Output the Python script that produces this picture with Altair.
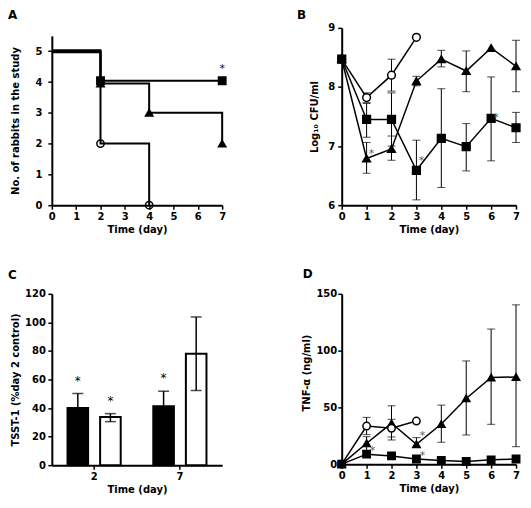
import altair as alt
import pandas as pd

FONT = "DejaVu Sans"

# ---------------- Panel A: number of rabbits in the study ----------------
a_sq_day = [0, 2, 7]
a_sq_n = [5.03, 4.04, 4.04]
a_tri_day = [0, 2, 4, 7]
a_tri_n = [4.97, 3.95, 3, 2]
a_ci_day = [0, 2, 4]
a_ci_n = [5, 2, 0]
a_star_day = [7]
a_star_n = [4.04]

# ---------------- Panel B: Log10 CFU/ml ----------------
days = [0, 1, 2, 3, 4, 5, 6, 7]
b_sq = [8.47, 7.45, 7.45, 6.59, 7.13, 6.99, 7.47, 7.31]
b_sq_lo = [None, 7.15, 7.00, 6.09, 6.30, 6.58, 6.75, 7.06]
b_sq_hi = [None, 7.72, 7.90, 7.10, 7.97, 7.38, 8.17, 7.57]
b_tri = [8.47, 6.79, 6.95, 8.10, 8.47, 8.27, 8.66, 8.35]
b_tri_lo = [None, 6.54, 6.76, 8.02, 8.34, 7.92, None, 7.92]
b_tri_hi = [None, 7.06, 7.17, 8.18, 8.62, 8.61, None, 8.79]
b_ci_day = [0, 1, 2, 3]
b_ci = [8.47, 7.82, 8.20, 8.84]
b_ci_lo = [None, 7.74, 7.93, None]
b_ci_hi = [None, 7.90, 8.47, None]
b_star_day = [1, 3, 6]
b_star_v = [6.87, 6.75, 7.48]

# ---------------- Panel C: TSST-1 ----------------
c_day = ["2", "7"]
c_black = [40.1, 41.3]
c_black_lo = [30.0, 30.8]
c_black_hi = [50.2, 51.8]
c_white = [33.8, 78.0]
c_white_lo = [30.5, 52.3]
c_white_hi = [36.1, 103.8]
c_black_sig = [True, True]
c_white_sig = [True, False]

# ---------------- Panel D: TNF-alpha ----------------
d_sq = [0, 8.8, 7.3, 4.6, 3.2, 2.3, 3.8, 4.6]
d_tri = [0, 18.4, 36.0, 17.5, 35.4, 57.9, 76.3, 76.8]
d_tri_lo = [None, 12.0, 21.3, 14.9, 19.3, 25.7, 35.1, 15.4]
d_tri_hi = [None, 24.2, 51.4, 23.4, 52.0, 90.9, 119.0, 140.3]
d_ci_day = [0, 1, 2, 3]
d_ci = [0, 33.6, 31.6, 38.0]
d_ci_lo = [None, 26.0, 24.0, None]
d_ci_hi = [None, 41.2, 39.5, None]
d_star_day = [1, 3, 3]
d_star_v = [11.0, 24.2, 6.7]

GROUPS = ["sq", "tri", "ci"]
SHAPE = alt.Scale(domain=GROUPS, range=["square", "triangle-up", "circle"])


def series(g, xs, vs, lo=None, hi=None, mark_from=0):
    rows = []
    for i, (x, v) in enumerate(zip(xs, vs)):
        rows.append({"g": g, "day": x, "v": v,
                     "lo": None if lo is None else lo[i],
                     "hi": None if hi is None else hi[i],
                     "m": i >= mark_from})
    return rows


def letter_layer(txt, lx, ly):
    return alt.Chart(pd.DataFrame({"k": [0]})).mark_text(
        text=txt, align="left", baseline="top", font=FONT,
        fontSize=12, fontWeight="bold", color="black"
    ).encode(x=alt.value(lx), y=alt.value(ly))


def line_panel(df, stars, xscale, yscale, xaxis, yaxis, w, h, interp, msize,
               letter, lx, ly, star_color, star_dx, star_dy, lw=1.5, ci_fill="white"):
    X = alt.X("day:Q", scale=xscale, axis=xaxis)
    Y = alt.Y("v:Q", scale=yscale, axis=yaxis)
    base = alt.Chart(df)
    err = base.transform_filter("isValid(datum.lo)")
    rules = err.mark_rule(color="black", strokeWidth=1).encode(
        x=X, y=alt.Y("lo:Q", scale=yscale, axis=yaxis), y2="hi:Q")
    cap_lo = err.mark_tick(color="black", thickness=1, size=8, orient="horizontal").encode(
        x=X, y=alt.Y("lo:Q", scale=yscale, axis=yaxis))
    cap_hi = err.mark_tick(color="black", thickness=1, size=8, orient="horizontal").encode(
        x=X, y=alt.Y("hi:Q", scale=yscale, axis=yaxis))
    lines = base.mark_line(color="black", strokeWidth=lw, interpolate=interp).encode(
        x=X, y=Y, detail="g:N")
    pts = base.transform_filter("datum.m").mark_point(
        filled=True, stroke="black", strokeWidth=1.5, size=msize, opacity=1
    ).encode(x=X, y=Y,
             shape=alt.Shape("g:N", scale=SHAPE, legend=None),
             fill=alt.condition("datum.g == 'ci' && datum.day > 0",
                                alt.value(ci_fill), alt.value("black")))
    st = alt.Chart(stars).mark_text(
        text="*", font=FONT, fontSize=11, color=star_color, baseline="middle",
        dx=star_dx, dy=star_dy
    ).encode(x=X, y=Y)
    return alt.layer(rules, cap_lo, cap_hi, lines, pts, st,
                     letter_layer(letter, lx, ly)).properties(width=w, height=h)


def xaxis_days(tp=3):
    return alt.Axis(title="Time (day)", values=days, format="d", labelPadding=2,
                    titlePadding=tp, labelFlush=False)


# ---- A ----
dfA = pd.DataFrame(series("sq", a_sq_day, a_sq_n, mark_from=1)
                   + series("tri", a_tri_day, a_tri_n, mark_from=1)
                   + series("ci", a_ci_day, a_ci_n, mark_from=1))
starsA = pd.DataFrame({"day": a_star_day, "v": a_star_n})
pA = line_panel(
    dfA, starsA,
    alt.Scale(domain=[0, 7], nice=False),
    alt.Scale(domain=[0, 5.5], range=[178, 8], nice=False),
    xaxis_days(),
    alt.Axis(title="No. of rabbits in the study", values=[0, 1, 2, 3, 4, 5], format="d",
             labelPadding=6, titlePadding=14),
    171, 178, "step-after", 55, "A", -44, -18, "black", 0, -12, lw=2, ci_fill="transparent")

# ---- B ----
dfB = pd.DataFrame(series("sq", days, b_sq, b_sq_lo, b_sq_hi)
                   + series("tri", days, b_tri, b_tri_lo, b_tri_hi)
                   + series("ci", b_ci_day, b_ci, b_ci_lo, b_ci_hi))
starsB = pd.DataFrame({"day": b_star_day, "v": b_star_v})
pB = line_panel(
    dfB, starsB,
    alt.Scale(domain=[0, 7], nice=False),
    alt.Scale(domain=[6, 9], nice=False, zero=False),
    xaxis_days(),
    alt.Axis(title="Log₁₀ CFU/ml", values=[6, 7, 8, 9], format="d",
             labelPadding=3, titlePadding=8),
    175, 178, "linear", 60, "B", -45, -18, "#555555", 5, 0)

# ---- C ----
c_rows = []
for i, d in enumerate(c_day):
    c_rows.append({"day": d, "g": "a", "v": c_black[i], "lo": c_black_lo[i],
                   "hi": c_black_hi[i], "sig": c_black_sig[i]})
    c_rows.append({"day": d, "g": "b", "v": c_white[i], "lo": c_white_lo[i],
                   "hi": c_white_hi[i], "sig": c_white_sig[i]})
dfC = pd.DataFrame(c_rows)
c_yscale = alt.Scale(domain=[0, 120], nice=False)
c_yaxis = alt.Axis(title="TSST-1 (%day 2 control)", values=[0, 20, 40, 60, 80, 100, 120],
                   format="d", labelPadding=2.5, titlePadding=4.5)
Xc = alt.X("day:N", sort=c_day, scale=alt.Scale(paddingInner=0.38, paddingOuter=0.183),
           axis=alt.Axis(title="Time (day)", labelAngle=0, labelPadding=2, titlePadding=3))
XO = alt.XOffset("g:N", scale=alt.Scale(paddingInner=0.368, paddingOuter=0))
baseC = alt.Chart(dfC)
barsC = baseC.mark_bar(stroke="black", strokeWidth=2).encode(
    x=Xc, xOffset=XO, y=alt.Y("v:Q", scale=c_yscale, axis=c_yaxis),
    fill=alt.condition("datum.g == 'a'", alt.value("black"), alt.value("white")))
rulesC = baseC.mark_rule(color="black", strokeWidth=1.5).encode(
    x=Xc, xOffset=XO, y=alt.Y("lo:Q", scale=c_yscale, axis=c_yaxis), y2="hi:Q")
capLoC = baseC.mark_tick(color="black", thickness=1.5, size=11, orient="horizontal").encode(
    x=Xc, xOffset=XO, y=alt.Y("lo:Q", scale=c_yscale, axis=c_yaxis))
capHiC = baseC.mark_tick(color="black", thickness=1.5, size=11, orient="horizontal").encode(
    x=Xc, xOffset=XO, y=alt.Y("hi:Q", scale=c_yscale, axis=c_yaxis))
starsC = baseC.transform_filter("datum.sig").mark_text(
    text="*", font=FONT, fontSize=12, color="black", baseline="middle", dy=-13
).encode(x=Xc, xOffset=XO, y=alt.Y("hi:Q", scale=c_yscale, axis=c_yaxis))
pC = alt.layer(barsC, rulesC, capLoC, capHiC, starsC,
               letter_layer("C", -44, -24)).properties(width=171, height=172)

# ---- D ----
dfD = pd.DataFrame(series("sq", days, d_sq)
                   + series("tri", days, d_tri, d_tri_lo, d_tri_hi)
                   + series("ci", d_ci_day, d_ci, d_ci_lo, d_ci_hi))
starsD = pd.DataFrame({"day": d_star_day, "v": d_star_v})
pD = line_panel(
    dfD, starsD,
    alt.Scale(domain=[0, 7], nice=False),
    alt.Scale(domain=[0, 150], nice=False),
    xaxis_days(),
    alt.Axis(title="TNF-α (ng/ml)", values=[0, 50, 100, 150], format="d",
             labelPadding=1, titlePadding=4.5, titleY=79),
    175, 171, "linear", 55, "D", -39, -25, "#555555", 6, -1)

chart = alt.concat(
    pA, pB, pC, pD, columns=2, spacing={"row": 89, "column": 120},
    bounds="flush", align="each"
).properties(padding=0, background="white").configure_axis(
    domainColor="black", domainWidth=2, tickColor="black", tickWidth=1.5, tickSize=4,
    grid=False, labelFlush=False,
    labelFont=FONT, labelFontSize=10, labelFontWeight="bold", labelColor="black",
    titleFont=FONT, titleFontSize=10, titleFontWeight="bold", titleColor="black",
).configure_view(stroke=None)

chart.save("out.html", embed_options={"renderer": "svg", "actions": False})
